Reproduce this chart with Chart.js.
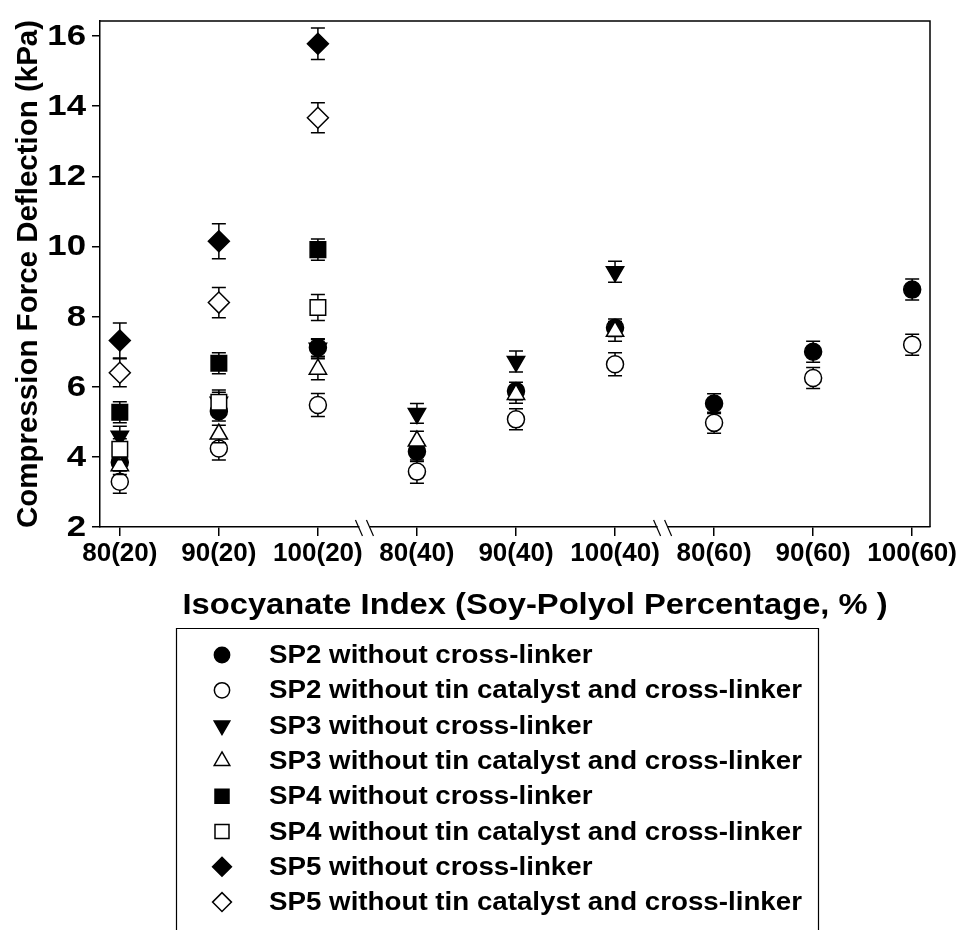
<!DOCTYPE html>
<html>
<head>
<meta charset="utf-8">
<script src="https://cdn.jsdelivr.net/npm/chart.js@4.4.0/dist/chart.umd.min.js"></script>
<style>
html, body { margin: 0; padding: 0; background: #fff; }
canvas { display: block; }
</style>
</head>
<body>
<canvas id="cfd" width="964" height="930"></canvas>
<script>
// Compression force deflection vs isocyanate index (soy-polyol %)

const categories = ['80(20)', '90(20)', '100(20)', '80(40)', '90(40)', '100(40)', '80(60)', '90(60)', '100(60)'];
const yTicks = [2, 4, 6, 8, 10, 12, 14, 16];
const axisBreaks = [2.47, 5.48];
const xTitle = 'Isocyanate Index (Soy-Polyol Percentage, % )';
const yTitle = 'Compression Force Deflection (kPa)';

const seriesLabels = [
  'SP2 without cross-linker',
  'SP2 without tin catalyst and cross-linker',
  'SP3 without cross-linker',
  'SP3 without tin catalyst and cross-linker',
  'SP4 without cross-linker',
  'SP4 without tin catalyst and cross-linker',
  'SP5 without cross-linker',
  'SP5 without tin catalyst and cross-linker'
];

// values (kPa) and +/- error, one entry per category from the left
const sp2Filled = [3.85, 5.30, 7.12, 4.15, 5.88, 7.68, 5.52, 7.00, 8.77];
const sp2FilledErr = [0.25, 0.28, 0.25, 0.28, 0.25, 0.25, 0.28, 0.30, 0.30];
const sp2Open = [3.29, 4.24, 5.48, 3.58, 5.07, 6.64, 4.97, 6.25, 7.20];
const sp2OpenErr = [0.33, 0.33, 0.33, 0.33, 0.30, 0.33, 0.30, 0.30, 0.30];
const sp3Filled = [4.59, 5.56, 7.10, 5.24, 6.72, 9.28];
const sp3FilledErr = [0.28, 0.28, 0.25, 0.28, 0.30, 0.30];
const sp3Open = [3.75, 4.65, 6.50, 4.45, 5.78, 7.58];
const sp3OpenErr = [0.25, 0.25, 0.30, 0.28, 0.25, 0.28];
const sp4Filled = [5.27, 6.67, 9.91];
const sp4FilledErr = [0.30, 0.30, 0.30];
const sp4Open = [4.22, 5.56, 8.26];
const sp4OpenErr = [0.30, 0.35, 0.37];
const sp5Filled = [7.32, 10.15, 15.78];
const sp5FilledErr = [0.50, 0.50, 0.45];
const sp5Open = [6.40, 8.40, 13.67];
const sp5OpenErr = [0.40, 0.43, 0.43];

const FONT = "'Liberation Sans', Arial, sans-serif";

const seriesValues = [sp2Filled, sp2Open, sp3Filled, sp3Open, sp4Filled, sp4Open, sp5Filled, sp5Open];
const seriesErrors = [sp2FilledErr, sp2OpenErr, sp3FilledErr, sp3OpenErr, sp4FilledErr, sp4OpenErr, sp5FilledErr, sp5OpenErr];
const markerShape = ['circle', 'circle', 'triangle', 'triangle', 'rect', 'rect', 'rectRot', 'rectRot'];
const markerSize = [8.5, 8.5, 10, 10, 11, 11, 10.5, 10.5];
const markerTurn = [0, 0, 180, 0, 0, 0, 0, 0];

const datasets = seriesLabels.map((label, i) => ({
  label: label,
  data: seriesValues[i].map((v, k) => ({ x: k, y: v })),
  errors: seriesErrors[i],
  pointStyle: markerShape[i],
  pointRadius: markerSize[i],
  pointRotation: markerTurn[i],
  pointBorderWidth: 1.5,
  pointBorderColor: '#000',
  pointBackgroundColor: i % 2 === 0 ? '#000' : '#fff',
  backgroundColor: i % 2 === 0 ? '#000' : '#fff',
  borderColor: '#000',
  showLine: false,
  order: 20 - i // later series end up on top
}));

// the original lettering is a bit wider than Liberation Sans, so squeeze it out horizontally
function wideText(ctx, text, x, y, size, sx, align) {
  ctx.save();
  ctx.font = 'bold ' + size + 'px ' + FONT;
  ctx.fillStyle = '#000';
  ctx.textBaseline = 'middle';
  ctx.textAlign = align;
  ctx.translate(x, y);
  ctx.scale(sx, 1);
  ctx.fillText(text, 0, 0);
  ctx.restore();
}

const errorBars = {
  id: 'errorBars',
  beforeDatasetDraw(chart, args) {
    const ds = chart.data.datasets[args.index];
    const xs = chart.scales.x, ys = chart.scales.y;
    const ctx = chart.ctx;
    ctx.save();
    ctx.strokeStyle = '#000';
    ctx.lineWidth = 1.5;
    ds.data.forEach((p, k) => {
      const x = xs.getPixelForValue(p.x);
      const top = ys.getPixelForValue(p.y + ds.errors[k]);
      const bot = ys.getPixelForValue(p.y - ds.errors[k]);
      ctx.beginPath();
      ctx.moveTo(x, top); ctx.lineTo(x, bot);
      ctx.moveTo(x - 7, top); ctx.lineTo(x + 7, top);
      ctx.moveTo(x - 7, bot); ctx.lineTo(x + 7, bot);
      ctx.stroke();
    });
    ctx.restore();
  }
};

const frameAndBreaks = {
  id: 'frameAndBreaks',
  afterDraw(chart) {
    const { ctx, chartArea: a } = chart;
    ctx.save();
    ctx.strokeStyle = '#000';
    ctx.lineWidth = 1.5;
    ctx.beginPath();
    ctx.moveTo(a.left, a.top); ctx.lineTo(a.right, a.top); ctx.lineTo(a.right, a.bottom);
    ctx.stroke();
    // axis break marks
    axisBreaks.forEach(v => {
      const cx = chart.scales.x.getPixelForValue(v);
      ctx.fillStyle = '#fff';
      ctx.fillRect(cx - 5, a.bottom - 2, 10, 4);
      ctx.lineWidth = 1.2;
      [-5.5, 5.5].forEach(d => {
        ctx.beginPath();
        ctx.moveTo(cx + d - 3.5, a.bottom - 7);
        ctx.lineTo(cx + d + 3.5, a.bottom + 9);
        ctx.stroke();
      });
    });
    ctx.restore();

    // y tick labels and x title
    const ys = chart.scales.y;
    yTicks.forEach(v => wideText(ctx, String(v), 86, ys.getPixelForValue(v) + 1, 29, 1.2, 'right'));
    wideText(ctx, xTitle, 535, 606, 30, 1.09, 'center');
  }
};

const legendBox = {
  id: 'legendBox',
  afterDraw(chart) {
    const ctx = chart.ctx;
    ctx.save();
    ctx.strokeStyle = '#000';
    ctx.lineWidth = 1.2;
    ctx.beginPath();
    ctx.moveTo(176.5, 940); ctx.lineTo(176.5, 628.5); ctx.lineTo(818.5, 628.5); ctx.lineTo(818.5, 940);
    ctx.stroke();
    chart.data.datasets.forEach((ds, i) => {
      const y = 655 + i * 35.3;
      ctx.fillStyle = ds.pointBackgroundColor;
      ctx.strokeStyle = '#000';
      ctx.lineWidth = 1.5;
      Chart.helpers.drawPoint(ctx, {
        pointStyle: ds.pointStyle,
        radius: ds.pointRadius * 0.9,
        rotation: ds.pointRotation,
        borderWidth: 1.5
      }, 222, y);
      wideText(ctx, ds.label, 269, y + 1, 25.5, 1.087, 'left');
    });
    ctx.restore();
  }
};

new Chart(document.getElementById('cfd'), {
  type: 'scatter',
  data: { datasets: datasets },
  plugins: [errorBars, frameAndBreaks, legendBox],
  options: {
    responsive: false,
    animation: false,
    devicePixelRatio: 1,
    layout: { autoPadding: false, padding: { top: 21, right: 34, left: 0, bottom: 0 } },
    plugins: { legend: { display: false }, tooltip: { enabled: false } },
    scales: {
      x: {
        type: 'linear',
        min: -0.2,
        max: 8.18,
        afterBuildTicks: s => { s.ticks = categories.map((c, i) => ({ value: i })); },
        afterFit: s => { s.height = 403; },
        ticks: {
          autoSkip: false, maxRotation: 0, minRotation: 0, padding: 2, color: '#000',
          font: { family: FONT, size: 26, weight: 'bold' },
          callback: v => categories[v]
        },
        grid: { drawOnChartArea: false, drawTicks: true, tickLength: 9, color: '#000', lineWidth: 1.5 },
        border: { display: true, color: '#000', width: 1.5 },
        title: { display: false, text: xTitle }
      },
      y: {
        type: 'linear',
        min: 2,
        max: 16.43,
        afterBuildTicks: s => { s.ticks = yTicks.map(v => ({ value: v })); },
        afterFit: s => { s.width = 100; },
        ticks: { display: false },
        grid: { drawOnChartArea: false, drawTicks: true, tickLength: 8, color: '#000', lineWidth: 1.5 },
        border: { display: true, color: '#000', width: 1.5 },
        title: {
          display: true, text: yTitle, color: '#000',
          font: { family: FONT, size: 29.5, weight: 'bold' },
          padding: { top: 11, bottom: 0 }
        }
      }
    }
  }
});
</script>
</body>
</html>
